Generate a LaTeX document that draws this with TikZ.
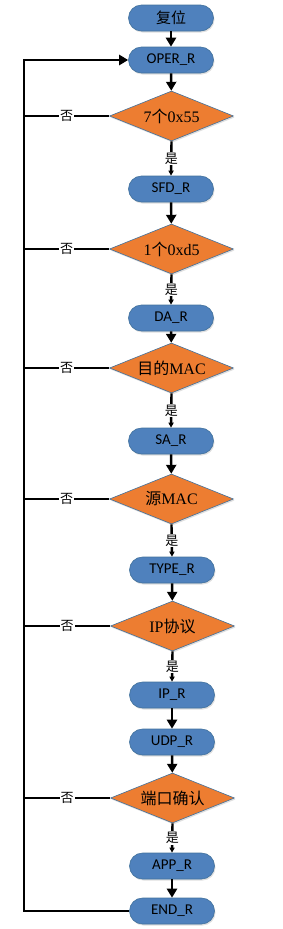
\documentclass[tikz,border=0pt]{standalone}
\usepackage{fontspec}
\setmainfont{Carlito}
\newfontfamily\cjk{Noto Sans CJK SC}
\newfontfamily\serifx{Liberation Serif}
\usetikzlibrary{shapes.geometric,arrows.meta,shadows}
\definecolor{boxblue}{HTML}{4F81BD}
\definecolor{boxedge}{HTML}{41719C}
\definecolor{dorange}{HTML}{ED7D31}
\tikzset{
  box/.style={draw=boxedge, line width=0.6pt, fill=boxblue, rounded corners=13pt,
    minimum width=85pt, minimum height=26pt, inner sep=0pt, font=\fontsize{15}{15}\selectfont,
    drop shadow={shadow xshift=1pt, shadow yshift=-1.5pt, opacity=0.25, fill=gray}},
  dec/.style={diamond, draw=boxedge, line width=0.6pt, fill=dorange, aspect=2.4,
    minimum width=124pt, minimum height=50pt, inner sep=0pt, font=\serifx\fontsize{16}{16}\selectfont,
    drop shadow={shadow xshift=1pt, shadow yshift=-1.5pt, opacity=0.25, fill=gray}},
  flow/.style={line width=2.4pt, -{Triangle[length=9pt,width=10pt]}},
  yes/.style={line width=2.4pt, -{Triangle[length=5pt,width=5pt]}},
  lab/.style={fill=white, inner sep=1pt, font=\cjk\fontsize{13}{13}\selectfont},
  bus/.style={line width=2.4pt}
}
\begin{document}
\begin{tikzpicture}[x=1pt,y=1pt]
\useasboundingbox (0,0) rectangle (282,-929);
\node[box] (rst) at (171,-18) {\cjk 复位};
\node[box] (oper) at (171,-60) {OPER\_R};
\node[dec] (d1) at (171.5,-116) {7{\cjk 个}0x55};
\node[box] (sfd) at (171,-189) {SFD\_R};
\node[dec] (d2) at (171.5,-249) {1{\cjk 个}0xd5};
\node[box] (da) at (171,-318) {DA\_R};
\node[dec] (d3) at (171.5,-368) {{\cjk 目的}MAC};
\node[box] (sa) at (171,-441) {SA\_R};
\node[dec] (d4) at (171.5,-499) {{\cjk 源}MAC};
\node[box] (type) at (172,-570) {TYPE\_R};
\node[dec] (d5) at (172.5,-626) {IP{\cjk 协议}};
\node[box] (ip) at (172,-695) {IP\_R};
\node[box] (udp) at (172,-742) {UDP\_R};
\node[dec] (d6) at (172.5,-798) {\cjk 端口确认};
\node[box] (app) at (172,-866) {APP\_R};
\node[box] (fin) at (172,-911) {END\_R};
\coordinate (bt) at (24,-60);
\coordinate (bb) at (24,-911);
% main flow
\draw[flow] (rst) -- (oper);
\draw[flow] (oper) -- (d1);
\draw[flow] (sfd) -- (d2);
\draw[flow] (da) -- (d3);
\draw[flow] (sa) -- (d4);
\draw[flow] (type) -- (d5);
\draw[flow] (ip) -- (udp);
\draw[flow] (udp) -- (d6);
\draw[flow] (app) -- (fin);
% yes branches
\foreach \d/\b in {d1/sfd,d2/da,d3/sa,d4/type,d5/ip,d6/app}{
  \draw[yes] (\d.south) -- node[lab, pos=0.5]{是} (\b.north);
}
% loop back
\draw[flow] (fin.west) -- (bb) -- (bt) -- (oper.west);
\foreach \d in {d1,d2,d3,d4,d5,d6}{
  \draw[bus] (\d.west) -- node[lab, pos=0.5]{否} (\d.west -| bt);
}
\end{tikzpicture}
\end{document}
